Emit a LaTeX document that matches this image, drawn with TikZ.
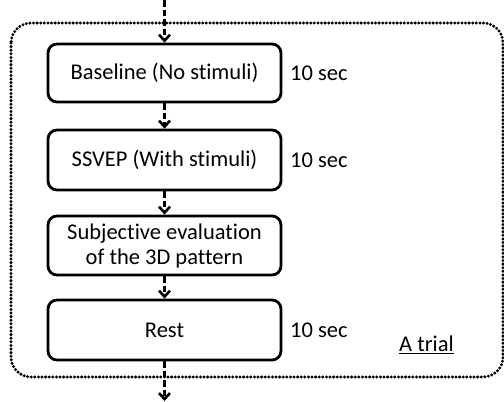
\documentclass[tikz,border=0pt]{standalone}
\usepackage{fontspec}
\setmainfont{Carlito}[Ligatures=NoCommon]
\usetikzlibrary{arrows.meta}
\begin{document}
\begin{tikzpicture}[x=1pt,y=-1pt,
  stage/.style={draw,line width=2.8pt,rounded corners=9pt,minimum width=233pt,
    align=center,font=\fontsize{22.5}{25}\selectfont,inner sep=0pt},
  dur/.style={anchor=west,inner sep=0pt,font=\fontsize{22.5}{25}\selectfont},
  flow/.style={line width=2.8pt,dash pattern=on 6.5pt off 3pt,
    -{Straight Barb[length=6pt,width=11pt,line width=2.6pt]}},
  frame/.style={line width=3.3pt,dash pattern=on 0pt off 3.6pt,line cap=round,rounded corners=20pt}]
\useasboundingbox (0,0) rectangle (504,402);
% the trial frame
\draw[frame] (11,23) rectangle (503,377);
% stages of one trial
\node[stage,minimum height=58pt] (base) at (164.5,73) {Baseline (No stimuli)};
\node[stage,minimum height=60pt] (ssvep) at (164.5,160) {SSVEP (With stimuli)};
\node[stage,minimum height=59pt] (eval) at (164.5,245.5) {Subjective evaluation\\of the 3D pattern};
\node[stage,minimum height=60pt] (rest) at (164.5,330) {Rest};
% durations
\node[dur] (d1) at (290,73) {10 sec};
\node[dur] (d2) at (290,160) {10 sec};
\node[dur] (d4) at (290,330) {10 sec};
\node[font=\fontsize{22.5}{25}\selectfont,inner sep=1pt] (trial) at (426.5,345) {\underline{A trial}};
% connectors
\coordinate (in) at (164.5,0);
\coordinate (out) at (164.5,401);
\draw[flow] (in) -- (base.north);
\draw[flow] (base.south) -- (ssvep.north);
\draw[flow] (ssvep.south) -- (eval.north);
\draw[flow] (eval.south) -- (rest.north);
\draw[flow] (rest.south) -- (out);
\end{tikzpicture}
\end{document}
